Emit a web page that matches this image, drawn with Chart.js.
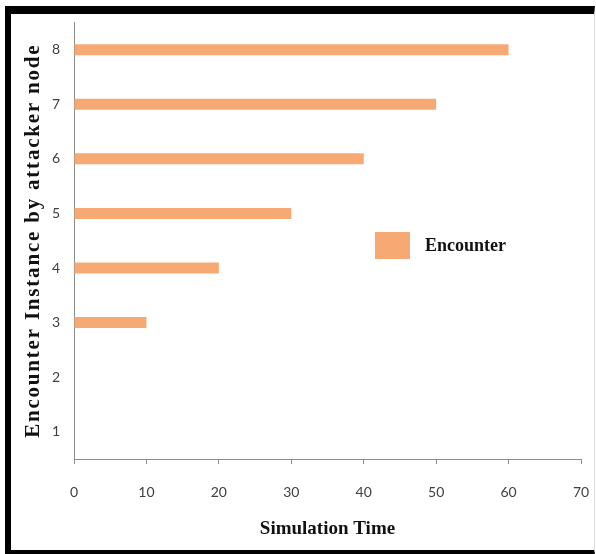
<!DOCTYPE html>
<html>
<head>
<meta charset="utf-8">
<script src="https://cdn.jsdelivr.net/npm/chart.js@4/dist/chart.umd.min.js"></script>
<style>
  html, body { margin: 0; padding: 0; background: #fff; overflow: hidden; }
  #wrap { position: relative; width: 596px; height: 554px; overflow: hidden; }
  #c { display: block; }
  #frame { position: absolute; left: 5px; top: 6px; width: 590px; height: 548px;
           border-top: 8px solid #000; border-left: 6px solid #000; border-bottom: 4px solid #000;
           border-right: 1px solid #ddd; box-sizing: border-box; pointer-events: none; }
  #legend { position: absolute; left: 375px; top: 232px; display: flex; align-items: center;
            font-family: "Liberation Serif", "Times New Roman", serif; font-weight: bold;
            font-size: 18px; color: #111; }
  #legend .sw { width: 35px; height: 27px; margin-right: 15px; }
</style>
</head>
<body>
<div id="wrap">
  <canvas id="c" width="596" height="554"></canvas>
  <div id="legend"></div>
  <div id="frame"></div>
</div>
<script>
const categories = ["1", "2", "3", "4", "5", "6", "7", "8"];
const encounterValues = [0, 0, 10, 20, 30, 40, 50, 60];
const xTicks = [0, 10, 20, 30, 40, 50, 60, 70];
const seriesName = "Encounter";
const xTitle = "Simulation Time";
const yTitle = "Encounter Instance by attacker node";
const barColor = "rgb(246,169,114)";

const tickFont = { family: "Lato, 'Open Sans', sans-serif", size: 14 };
const titleFontFamily = "'Liberation Serif', 'Times New Roman', serif";

// widen the letter spacing of the vertical axis title only
const spacedTitle = {
  id: 'spacedTitle',
  afterLayout(chart) {
    const s = chart.scales.y;
    if (s._spacedPatched) return;
    const orig = s.drawTitle.bind(s);
    s.drawTitle = function () {
      const ctx = this.ctx;
      const prev = ctx.letterSpacing;
      ctx.letterSpacing = '1.8px';
      orig();
      ctx.letterSpacing = prev || '0px';
    };
    s._spacedPatched = true;
  }
};

const chart = new Chart(document.getElementById('c'), {
  type: 'bar',
  data: {
    labels: categories,
    datasets: [{
      label: seriesName,
      data: encounterValues,
      backgroundColor: barColor,
      borderWidth: 0,
      inflateAmount: 0,
      barThickness: 11
    }]
  },
  plugins: [spacedTitle],
  options: {
    indexAxis: 'y',
    responsive: false,
    animation: false,
    layout: { padding: { top: 22, right: 15, left: 0, bottom: 0 } },
    plugins: { legend: { display: false }, tooltip: { enabled: false } },
    scales: {
      x: {
        min: 0, max: 70,
        afterBuildTicks: s => { s.ticks = xTicks.map(v => ({ value: v })); },
        afterFit: s => { s.height = 95; s.paddingRight = 0; s.paddingLeft = 0; },
        grid: { display: true, drawOnChartArea: false, drawTicks: true, tickLength: 5, color: '#8c8c8c', lineWidth: 1 },
        border: { display: true, color: '#8c8c8c', width: 1 },
        ticks: { font: tickFont, color: '#404040', padding: 20, maxRotation: 0 },
        title: { display: true, text: xTitle, color: '#111',
                 font: { family: titleFontFamily, size: 19, weight: 'bold' },
                 padding: { top: 0, bottom: 14 } }
      },
      y: {
        reverse: true,
        afterFit: s => { s.width = 74; },
        grid: { display: false, drawTicks: false },
        border: { display: true, color: '#8c8c8c', width: 1 },
        ticks: { font: tickFont, color: '#404040', padding: 14 },
        title: { display: true, text: yTitle, color: '#111',
                 font: { family: titleFontFamily, size: 21, weight: 'bold' },
                 padding: { top: 21, bottom: 0 } }
      }
    }
  }
});

// HTML legend built from the dataset
const lg = document.getElementById('legend');
chart.data.datasets.forEach(ds => {
  const sw = document.createElement('div');
  sw.className = 'sw';
  sw.style.background = ds.backgroundColor;
  const tx = document.createElement('span');
  tx.textContent = ds.label;
  lg.appendChild(sw);
  lg.appendChild(tx);
});
</script>
</body>
</html>
